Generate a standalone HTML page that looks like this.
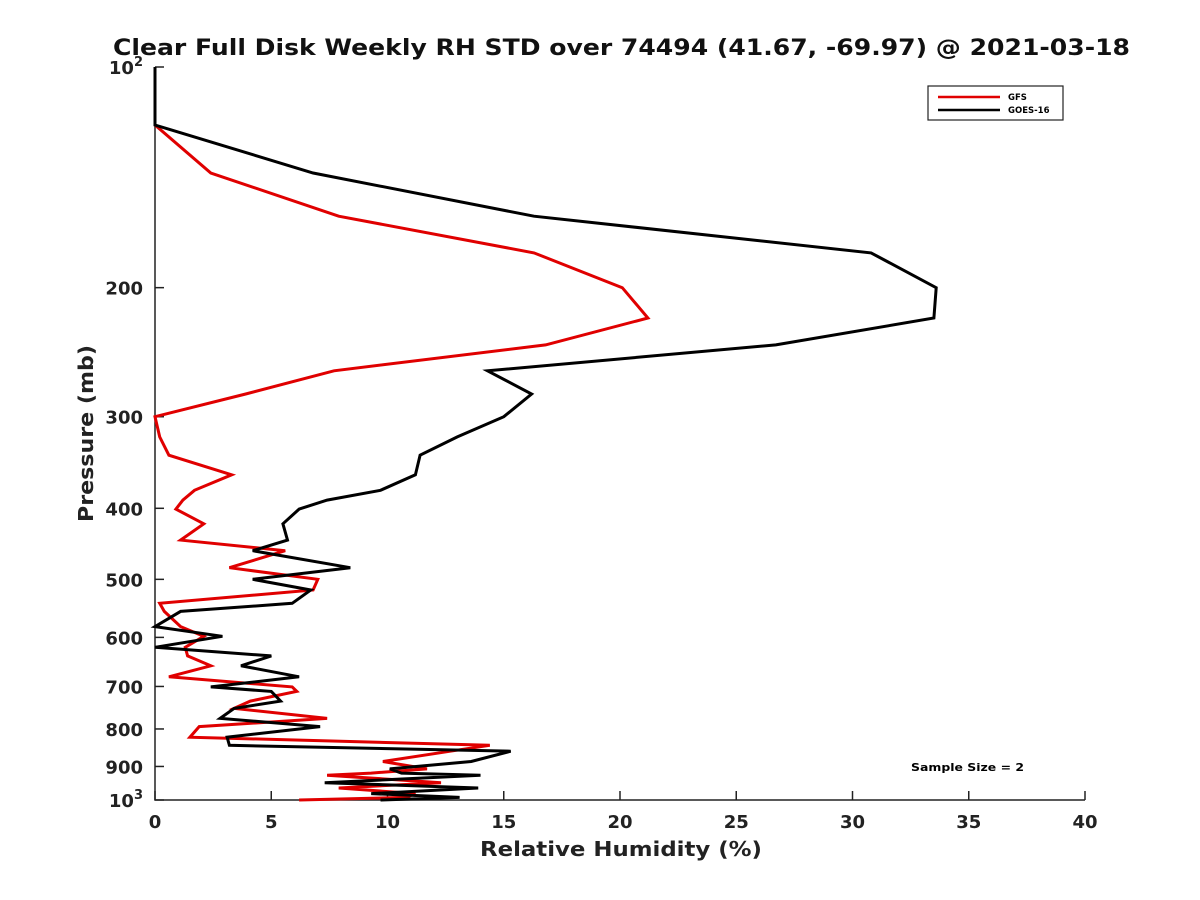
<!DOCTYPE html>
<html><head><meta charset="utf-8"><style>
body{margin:0;background:#fff}
svg{display:block;font-family:"DejaVu Sans","Liberation Sans",sans-serif;font-weight:bold}
</style></head><body>
<svg id="chart" width="1200" height="900" viewBox="0 0 1200 900">
<rect width="1200" height="900" fill="#fff"/>
<text x="113" y="55" font-size="22" textLength="1017" lengthAdjust="spacingAndGlyphs" fill="#111">Clear Full Disk Weekly RH STD over 74494 (41.67, -69.97) @ 2021-03-18</text>
<g id="axes"></g>
<g id="series"></g>
<g>
<rect x="928" y="86" width="135" height="34" fill="#fff" stroke="#222" stroke-width="1.2"/>
<line x1="938" y1="97" x2="1000" y2="97" stroke="#e00000" stroke-width="2.5"/>
<text x="1008" y="100" font-size="8.5">GFS</text>
<line x1="938" y1="110" x2="1000" y2="110" stroke="#000" stroke-width="2.5"/>
<text x="1008" y="113" font-size="8.5">GOES-16</text>
</g>
<text x="911" y="771" font-size="11" textLength="113" lengthAdjust="spacingAndGlyphs">Sample Size = 2</text>
<text x="480" y="856" font-size="20" textLength="282" lengthAdjust="spacingAndGlyphs" fill="#222">Relative Humidity (%)</text>
<text transform="translate(93,522) rotate(-90)" font-size="20" textLength="177" lengthAdjust="spacingAndGlyphs" fill="#222">Pressure (mb)</text>
</svg>
<script>
const pressures=[100,120,139.5,159.8,179.3,200,220,239.4,259.7,279.3,300,319.6,338.5,360,378,389.8,401,420,442,457,482,500,517,539,553,580,598,619,636,656,679,701,711,733,750,774,794,821,842,858,886,907,919,925,947,963,980,992,1000];
const goes16=[0,0,6.8,16.3,30.8,33.6,33.5,26.7,14.3,16.2,15,13,11.4,11.2,9.7,7.4,6.2,5.5,5.7,4.2,8.4,4.2,6.7,5.9,1.1,0,2.9,0,5,3.7,6.2,2.4,5,5.4,3.4,2.8,7.1,3.1,3.2,15.3,13.6,10.1,10.6,14,7.3,13.9,9.3,13.1,9.7];
const gfs=[0,0,2.4,7.9,16.3,20.1,21.2,16.8,7.7,3.9,0,0.2,0.6,3.3,1.7,1.2,0.9,2.1,1.1,5.6,3.2,7,6.8,0.2,0.4,1.1,2.1,1.3,1.4,2.4,0.6,5.9,6.1,4.1,3.4,7.4,1.9,1.5,14.4,12.7,9.8,11.7,9.3,7.4,12.3,7.9,11.2,10.8,6.2];
const xTicks=[0,5,10,15,20,25,30,35,40];
const yTickValues=[100,200,300,400,500,600,700,800,900,1000];
const yTickLabels=["10²","200","300","400","500","600","700","800","900","10³"];
const X0=155,X1=1085,Y0=67,Y1=800;
const xs=v=>X0+(v/40)*(X1-X0);
const ys=p=>Y0+(Math.log10(p)-2)*(Y1-Y0);
const NS="http://www.w3.org/2000/svg";
const axes=document.getElementById('axes'),series=document.getElementById('series');
function mk(tag,attrs,parent){const e=document.createElementNS(NS,tag);for(const k in attrs)e.setAttribute(k,attrs[k]);parent.appendChild(e);return e;}
const ax=mk('path',{d:`M${X0},${Y0}V${Y1}H${X1}`,fill:'none',stroke:'#222','stroke-width':1.5},axes);


xTicks.forEach(v=>{
 const t=mk('line',{x1:xs(v),x2:xs(v),y1:Y1,y2:Y1-9,stroke:'#222','stroke-width':1.5},axes);
 
 
 const l=mk('text',{x:xs(v),y:Y1+28,'font-size':18,'text-anchor':'middle',fill:'#222'},axes);
 l.textContent=v;
 
 
});
yTickValues.forEach((p,i)=>{
 const t=mk('line',{x1:X0,x2:X0+9,y1:ys(p),y2:ys(p),stroke:'#222','stroke-width':1.5},axes);
 
 
 const l=mk('text',{x:X0-12,y:ys(p)+7,'font-size':18,'text-anchor':'end',fill:'#222'},axes);
 const lab=yTickLabels[i];
 if(lab.length===3&&(lab[2]==='²'||lab[2]==='³')){
  l.textContent=lab.slice(0,2);
  const s=mk('tspan',{dy:-8,'font-size':13},l);s.textContent=lab[2]==='²'?'2':'3';
 } else l.textContent=lab;
 
 
});
function line(vals,color,name){
 const d=vals.map((v,i)=>(i?'L':'M')+xs(v).toFixed(1)+','+ys(pressures[i]).toFixed(1)).join('');
 const p=mk('path',{d,fill:'none',stroke:color,'stroke-width':3,'stroke-linejoin':'miter'},series);
 
 
}
line(gfs,'#e00000','gfs-line');
line(goes16,'#000','goes16-line');
</script>
</body></html>
